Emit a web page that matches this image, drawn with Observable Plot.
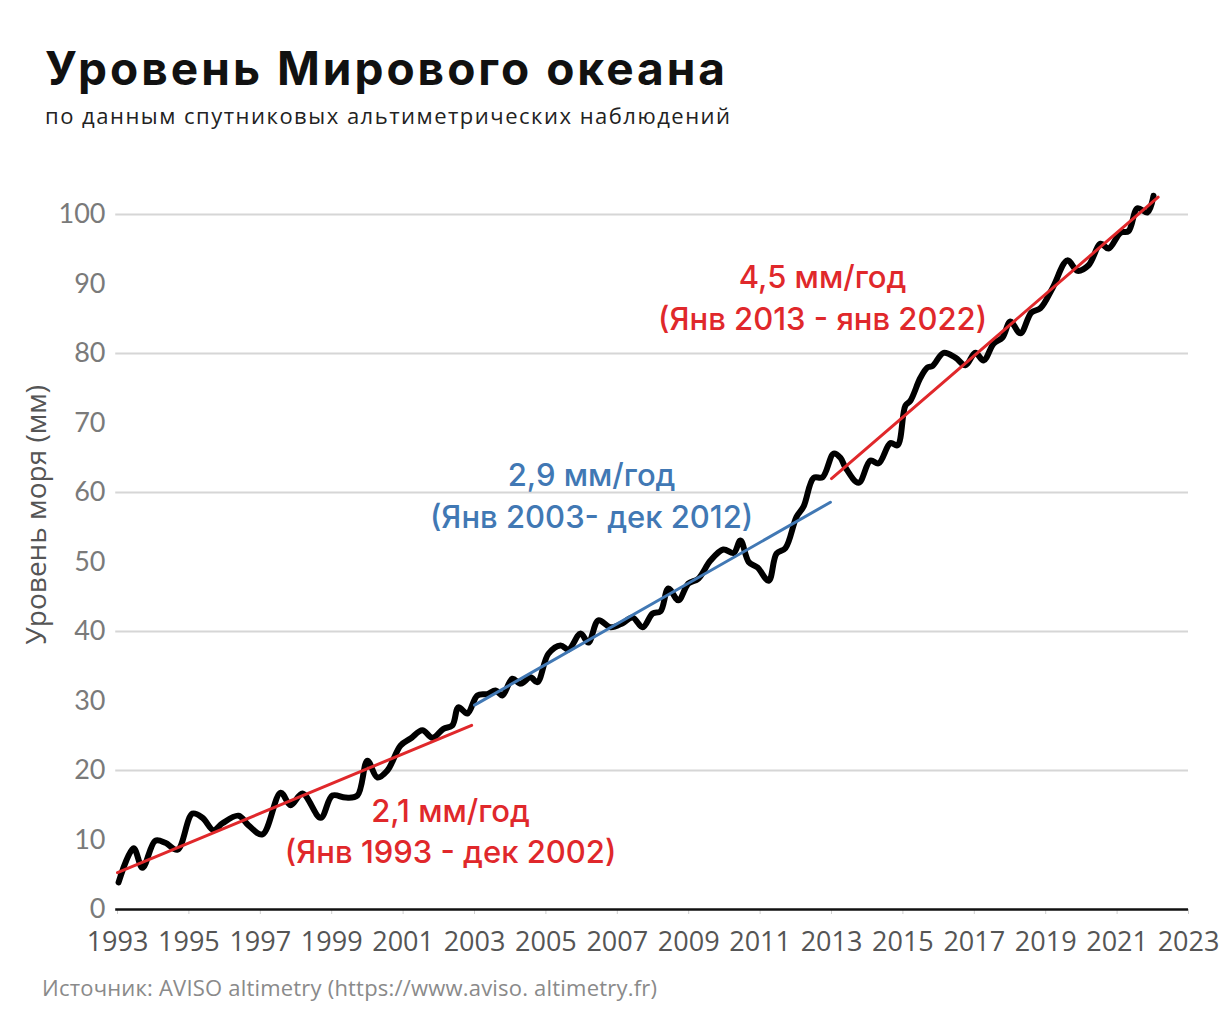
<!DOCTYPE html>
<html>
<head>
<meta charset="utf-8">
<script src="https://cdn.jsdelivr.net/npm/d3@7"></script>
<script src="https://cdn.jsdelivr.net/npm/@observablehq/plot@0.6"></script>
<style>
  body { margin: 0; background: #fff; width: 1228px; height: 1024px; position: relative; overflow: hidden; }
  #title { position: absolute; left: 45px; top: 40px; font-family: Inter, "Open Sans", sans-serif; font-weight: 700; font-size: 46px; letter-spacing: 3px; color: #111; white-space: nowrap; }
  #subtitle { position: absolute; left: 45px; top: 100px; font-family: "Open Sans", sans-serif; font-size: 22px; letter-spacing: 1.5px; color: #222; white-space: nowrap; }
  #source { position: absolute; left: 42px; top: 972px; font-family: "Open Sans", sans-serif; font-size: 22px; letter-spacing: 0.2px; color: #8a8a8a; white-space: nowrap; }
  #chart { position: absolute; left: 0; top: 150px; }
</style>
</head>
<body>
<div id="title">Уровень Мирового океана</div>
<div id="subtitle">по данным спутниковых альтиметрических наблюдений</div>
<div id="chart"></div>
<div id="source">Источник: AVISO altimetry (https://www.aviso. altimetry.fr)</div>
<script>
// Sea level series (year, mm)
const years = [1993.03,1993.45,1993.70,1994.06,1994.34,1994.68,1995.10,1995.38,1995.69,1995.94,1996.39,1996.67,1997.06,1997.57,1997.85,1998.18,1998.69,1999.02,1999.39,1999.72,2000.00,2000.28,2000.56,2000.93,2001.21,2001.54,2001.82,2002.13,2002.38,2002.55,2002.80,2003.08,2003.36,2003.59,2003.78,2004.06,2004.29,2004.57,2004.76,2005.07,2005.41,2005.63,2005.97,2006.19,2006.47,2006.81,2007.15,2007.43,2007.71,2007.99,2008.21,2008.43,2008.71,2008.99,2009.27,2009.61,2009.97,2010.26,2010.45,2010.68,2010.93,2011.24,2011.46,2011.71,2012.02,2012.22,2012.50,2012.75,2013.06,2013.25,2013.39,2013.76,2014.09,2014.32,2014.65,2014.85,2015.07,2015.21,2015.49,2015.69,2015.83,2016.14,2016.47,2016.75,2017.03,2017.26,2017.54,2017.79,2018.01,2018.29,2018.60,2018.85,2019.19,2019.61,2019.89,2020.20,2020.54,2020.76,2021.10,2021.32,2021.57,2021.85,2022.02];
const levels = [3.9,8.8,6.0,9.9,9.6,8.6,13.8,13.2,11.4,12.4,13.5,12.1,10.8,16.8,15.0,16.7,13.2,16.4,16.1,16.4,21.4,19.0,20.0,23.6,24.6,25.8,24.7,26.0,26.5,29.1,28.2,30.8,31.0,31.5,30.8,33.2,32.5,33.4,32.7,36.8,38.0,37.4,39.7,38.4,41.6,40.6,41.2,42.0,40.6,42.6,42.9,46.2,44.5,46.9,47.6,50.2,51.8,51.3,53.1,50.0,49.2,47.3,51.2,52.0,56.5,58.0,62.1,62.2,65.6,65.0,63.6,61.4,64.6,64.2,67.1,66.8,72.5,73.2,76.5,78.0,78.2,80.1,79.4,78.3,80.1,79.0,81.4,82.3,84.6,82.9,85.9,86.5,89.4,93.4,91.9,92.7,95.8,95.1,97.4,97.6,100.9,100.3,102.7];

// Trend segments: [start year, end year] and [start value, end value]
const trendYears = [[1993.0, 2002.92], [2003.0, 2012.97], [2013.0, 2022.15]];
const trendValues = [[5.3, 26.5], [29.4, 58.6], [62.0, 102.5]];
const trendColors = ["#e0282b", "#4178b4", "#e0282b"];

// Trend labels
const labelTexts = ["2,1 мм/год\n(Янв 1993 - дек 2002)", "2,9 мм/год\n(Янв 2003- дек 2012)", "4,5 мм/год\n(Янв 2013 - янв 2022)"];
const labelYears = [2002.33, 2006.28, 2012.75];
const labelValues = [11.5, 59.8, 88.3];

const xTicks = d3.range(1993, 2024, 2);
const yTicks = d3.range(0, 101, 10);
const gridValues = [20, 40, 60, 80, 100];
const yLabel = "Уровень моря (мм)";

const series = years.map((y, i) => ({year: y, level: levels[i]}));
const trends = trendYears.flatMap((ys, i) => [
  {seg: i, year: ys[0], level: trendValues[i][0], color: trendColors[i]},
  {seg: i, year: ys[1], level: trendValues[i][1], color: trendColors[i]}
]);
const labels = labelTexts.map((t, i) => ({text: t, year: labelYears[i], level: labelValues[i], color: trendColors[i]}));

const plot = Plot.plot({
  width: 1228,
  height: 860,
  marginLeft: 117,
  marginRight: 40,
  marginTop: 64,
  marginBottom: 101,
  x: {domain: [1993, 2023]},
  y: {domain: [0, 100]},
  style: {fontFamily: "'Open Sans', sans-serif", background: "#fff"},
  marks: [
    Plot.ruleY(gridValues, {stroke: "#d6d6d6", strokeWidth: 2, x1: 1992.95, x2: 2023}),
    Plot.axisY({ticks: yTicks, tickSize: 0, tickPadding: 12, fontSize: 27, fill: "#7a7a7a",
      fontFamily: "Lato, 'Open Sans', sans-serif", label: null, style: {letterSpacing: "1px"}}),
    Plot.text([yLabel], {x: 1993, y: 56.8, dx: -80, rotate: -90, textAnchor: "middle", fontSize: 28, fill: "#555",
      fontFamily: "'Open Sans', sans-serif", style: {letterSpacing: "1.6px"}}),
    Plot.axisX({ticks: xTicks, tickFormat: d => String(d), tickSize: 5, stroke: "#cfcfcf", tickPadding: 17, fontSize: 27,
      fill: "#555", label: null, fontFamily: "'Open Sans', sans-serif", style: {letterSpacing: "-1.2px"}}),
    Plot.ruleY([0], {stroke: "#111", strokeWidth: 2.5, x1: 1992.95, x2: 2023}),
    Plot.line(series, {x: "year", y: "level", stroke: "#000", strokeWidth: 6, curve: "catmull-rom", strokeLinejoin: "round", strokeLinecap: "round"}),
    Plot.line(trends, {x: "year", y: "level", z: "seg", stroke: "color", strokeWidth: 3}),
    Plot.text(labels, {x: "year", y: "level", text: "text", fill: "color", fontSize: 31, lineHeight: 1.33,
      fontFamily: "Inter, 'Open Sans', sans-serif", fontWeight: 500, textAnchor: "middle"})
  ]
});
document.getElementById("chart").appendChild(plot);
</script>
</body>
</html>
